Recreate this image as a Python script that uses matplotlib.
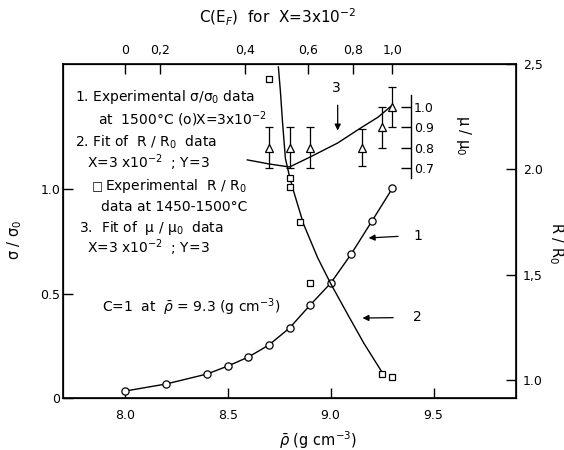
import matplotlib
matplotlib.use("Agg")
import matplotlib.pyplot as plt

# sigma/sigma0 data (circles, curve 1)
rho_sig = [8.0, 8.2, 8.4, 8.5, 8.6, 8.7, 8.8, 8.9, 9.0, 9.1, 9.2, 9.3]
sig = [0.033, 0.067, 0.115, 0.153, 0.196, 0.254, 0.335, 0.445, 0.55, 0.69, 0.847, 1.005]

# R/R0 experimental (squares) and fit (curve 2)
rho_r = [8.70, 8.80, 8.80, 8.85, 8.90, 9.25, 9.30]
r_exp = [2.43, 1.96, 1.915, 1.75, 1.46, 1.03, 1.015]
rho_rfit = [8.746, 8.756, 8.766, 8.78, 8.80, 8.82, 8.868, 8.937, 9.0, 9.083, 9.161, 9.249]
r_fit = [2.486, 2.368, 2.226, 2.052, 1.967, 1.896, 1.741, 1.58, 1.458, 1.311, 1.175, 1.038]

# mu/mu0 data (triangles with error bars) and fit (curve 3)
rho_mu = [8.70, 8.80, 8.90, 9.15, 9.25, 9.30]
mu = [0.8, 0.8, 0.8, 0.8, 0.9, 1.0]
mu_err = [0.1, 0.1, 0.1, 0.09, 0.1, 0.1]
rho_mufit = [8.595, 8.70, 8.80, 8.90, 9.034, 9.146, 9.23, 9.30]
mu_fit = [0.74, 0.72, 0.705, 0.754, 0.823, 0.897, 0.95, 1.01]

# top axis C(E_F)
c_rho = [8.0, 8.17, 8.585, 8.89, 9.11, 9.30]
c_labels = ["0", "0,2", "0,4", "0,6", "0,8", "1,0"]

W, H = 564, 450
fig = plt.figure(figsize=(W / 100, H / 100), dpi=100)
ax = fig.add_axes([63 / W, 1 - 398 / H, (516 - 63) / W, (398 - 64) / H])

lw = 1.0
fs = 9

ax.plot(rho_sig, sig, "-", color="k", lw=lw, marker="o", ms=5.2, mfc="white", mec="k", mew=0.9)
ax.set_xlim(7.7, 9.9)
ax.set_ylim(0, 1.6)
ax.set_xticks([8.0, 8.5, 9.0, 9.5])
ax.set_xticklabels(["8.0", "8.5", "9.0", "9.5"])
ax.set_yticks([0, 0.5, 1.0])
ax.set_yticklabels(["0", "0.5", "1.0"])
ax.tick_params(axis="x", direction="in", length=7, width=1, labelsize=fs, pad=8)
ax.tick_params(axis="y", direction="in", length=7, width=1, labelsize=fs, pad=2)
for s in ax.spines.values():
    s.set_linewidth(1.2)

# R/R0 axis on the right
ax2 = ax.twinx()
ax2.plot(rho_rfit, r_fit, "-", color="k", lw=lw)
ax2.plot(rho_r, r_exp, "s", ms=4, mfc="white", mec="k", mew=0.9)
ax2.set_ylim(0.915, 2.5)
ax2.set_yticks([1.0, 1.5, 2.0, 2.5])
ax2.set_yticklabels(["1.0", "1,5", "2.0", "2,5"])
ax2.tick_params(axis="y", direction="in", length=7, width=1, labelsize=fs, pad=5)

# mu/mu0 inner axis
ax3 = ax.twinx()
ax3.set_ylim(-0.431, 1.2115)
for k in ["top", "bottom", "left"]:
    ax3.spines[k].set_visible(False)
ax3.spines["right"].set_position(("data", 9.39))
ax3.spines["right"].set_bounds(0.65, 1.06)
ax3.spines["right"].set_linewidth(1.0)
ax3.set_yticks([0.7, 0.8, 0.9, 1.0])
ax3.set_yticklabels(["0.7", "0.8", "0.9", "1.0"])
ax3.tick_params(axis="y", direction="in", length=7, width=1, labelsize=fs, pad=2)
ax3.plot(rho_mufit, mu_fit, "-", color="k", lw=lw)
ax3.errorbar(rho_mu, mu, yerr=mu_err, fmt="^", ms=6, mfc="white", mec="k", mew=0.9,
             ecolor="k", elinewidth=0.9, capsize=3, capthick=0.9)

# top axis
axt = ax.twiny()
axt.set_xlim(ax.get_xlim())
axt.set_xticks(c_rho)
axt.set_xticklabels(c_labels)
axt.tick_params(axis="x", direction="in", length=7, width=1, labelsize=fs, pad=5)

# arrows and curve numbers
arr = dict(arrowstyle="-|>", color="k", lw=0.9, mutation_scale=9)
ax.annotate("", xy=(9.171, 0.766), xytext=(9.341, 0.775), arrowprops=arr)
ax.annotate("", xy=(9.141, 0.383), xytext=(9.317, 0.385), arrowprops=arr)
ax.annotate("", xy=(9.034, 1.268), xytext=(9.034, 1.416), arrowprops=arr)
ax.text(9.40, 0.778, "1", fontsize=10, va="center", ha="left")
ax.text(9.40, 0.388, "2", fontsize=10, va="center", ha="left")
ax.text(9.025, 1.483, "3", fontsize=10, va="center", ha="center")

# legend block
def ftxt(x, y, s, size=10):
    fig.text(x / W, 1 - y / H, s, va="center", ha="left", fontsize=size)

ftxt(75, 97, "1. Experimental σ/σ$_0$ data")
ftxt(98, 119, "at  1500°C (o)X=3x10$^{-2}$")
ftxt(75, 142, "2. Fit of  R / R$_0$  data")
ftxt(87, 163, "X=3 x10$^{-2}$  ; Y=3")
ftxt(92, 187, "\u25a1", size=8.5)
ftxt(105, 186, "Experimental  R / R$_0$")
ftxt(101, 207, "data at 1450-1500°C")
ftxt(79, 228, "3.  Fit of  μ / μ$_0$  data")
ftxt(87, 248, "X=3 x10$^{-2}$  ; Y=3")
ftxt(102, 307, "C=1  at  $\\bar{\\rho}$ = 9.3 (g cm$^{-3}$)")

# axis titles
fig.text(15 / W, 1 - 240 / H, "σ / σ$_0$", rotation=90, va="center", ha="center", fontsize=10.5)
fig.text(556 / W, 1 - 243 / H, "R / R$_0$", rotation=-90, va="center", ha="center", fontsize=10.5)
fig.text(463 / W, 1 - 135 / H, "μ / μ$_0$", rotation=-90, va="center", ha="center", fontsize=10.5)
fig.text(318 / W, 1 - 440 / H, "$\\bar{\\rho}$ (g cm$^{-3}$)", va="center", ha="center", fontsize=10.5)
fig.text(278 / W, 1 - 17 / H, "C(E$_F$)  for  X=3x10$^{-2}$", va="center", ha="center", fontsize=11)

fig.savefig("out.png", dpi=100)
